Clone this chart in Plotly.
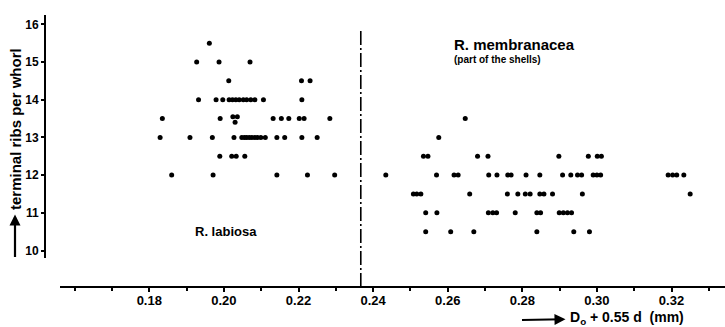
import plotly.graph_objects as go

# Shell measurements: x = D0 + 0.55 d (mm), y = terminal ribs per whorl
labiosa_x = [
    0.1961,
    0.1927, 0.1987, 0.2070,
    0.2013, 0.2208, 0.2231,
    0.1932, 0.1979, 0.1997, 0.2014, 0.2023, 0.2032, 0.2041, 0.2052, 0.2061,
    0.2072, 0.2083, 0.2106, 0.2209,
    0.1835, 0.1990, 0.2024, 0.2036, 0.2030, 0.2132, 0.2154, 0.2174, 0.2202,
    0.2215, 0.2284,
    0.1829, 0.1909, 0.1969, 0.2027, 0.2048, 0.2055, 0.2061, 0.2068, 0.2075,
    0.2083, 0.2090, 0.2099, 0.2111, 0.2142, 0.2163, 0.2209, 0.2250,
    0.1989, 0.2021, 0.2033, 0.2056,
    0.1860, 0.1971, 0.2142, 0.2224, 0.2297,
]
labiosa_y = [
    15.5,
    15.0, 15.0, 15.0,
    14.5, 14.5, 14.5,
    14.0, 14.0, 14.0, 14.0, 14.0, 14.0, 14.0, 14.0, 14.0,
    14.0, 14.0, 14.0, 14.0,
    13.5, 13.5, 13.55, 13.55, 13.4, 13.5, 13.5, 13.5, 13.5,
    13.5, 13.5,
    13.0, 13.0, 13.0, 13.0, 13.0, 13.0, 13.0, 13.0, 13.0,
    13.0, 13.0, 13.0, 13.0, 13.0, 13.0, 13.0, 13.0,
    12.5, 12.5, 12.5, 12.5,
    12.0, 12.0, 12.0, 12.0, 12.0,
]

membranacea_x = [
    0.2647,
    0.2576,
    0.2535, 0.2547, 0.2680, 0.2708, 0.2898, 0.2977, 0.3001, 0.3012,
    0.2434, 0.2570, 0.2617, 0.2628, 0.2710, 0.2732, 0.2761, 0.2770, 0.2810,
    0.2847, 0.2908, 0.2930, 0.2948, 0.2959, 0.2990, 0.3000, 0.3010, 0.3191,
    0.3203, 0.3214, 0.3233,
    0.2508, 0.2517, 0.2528, 0.2659, 0.2760, 0.2788, 0.2808, 0.2821, 0.2847,
    0.2858, 0.2881, 0.2961, 0.3250,
    0.2541, 0.2571, 0.2709, 0.2721, 0.2731, 0.2781, 0.2839, 0.2849, 0.2899,
    0.2910, 0.2921, 0.2932,
    0.2541, 0.2608, 0.2670, 0.2839, 0.2938, 0.2980,
]
membranacea_y = (
    [13.5]
    + [13.0]
    + [12.5] * 8
    + [12.0] * 21
    + [11.5] * 13
    + [11.0] * 12
    + [10.5] * 6
)

x_ticks = [0.18, 0.20, 0.22, 0.24, 0.26, 0.28, 0.30, 0.32]
x_ticktext = ["0.18", "0.20", "0.22", "0.24", "0.26", "0.28", "0.30", "0.32"]
x_minor = [0.16, 0.17, 0.19, 0.21, 0.23, 0.25, 0.27, 0.29, 0.31, 0.33]
y_ticks = [10, 11, 12, 13, 14, 15, 16]
boundary_x = 0.2367

FONT = "Liberation Sans"
W, H = 725, 327
ML, MR, MT, MB = 45, 0, 15, 40
PW, PH = W - ML - MR, H - MT - MB


def px(xp):
    return (xp - ML) / PW


def py(yp):
    return (H - MB - yp) / PH


marker = dict(size=5, color="black", symbol="circle")

fig = go.Figure()
fig.add_trace(go.Scatter(x=labiosa_x, y=labiosa_y, mode="markers",
                         marker=marker, name="R. labiosa", showlegend=False))
fig.add_trace(go.Scatter(x=membranacea_x, y=membranacea_y, mode="markers",
                         marker=marker, name="R. membranacea", showlegend=False))

# dash-dot boundary between the two species
fig.add_shape(type="line", xref="x", yref="paper",
              x0=boundary_x, x1=boundary_x, y0=0, y1=py(28),
              line=dict(color="black", width=1.6, dash="14px,3px,2px,3px"))

bold = dict(family=FONT, color="black", weight="bold")

fig.update_layout(
    width=W, height=H, autosize=False,
    margin=dict(l=ML, r=MR, t=MT, b=MB),
    paper_bgcolor="white", plot_bgcolor="white",
    xaxis=dict(
        domain=[px(60), 1], range=[0.15606, 0.33434],
        anchor="free", position=0,
        showline=True, linecolor="black", linewidth=2,
        showgrid=False, zeroline=False,
        tickmode="array", tickvals=x_ticks, ticktext=x_ticktext,
        ticks="outside", ticklen=4, tickwidth=1.5, tickcolor="black",
        ticklabelstandoff=-3,
        tickfont=dict(size=13, **bold),
        minor=dict(tickmode="array", tickvals=x_minor, ticks="outside",
                   ticklen=3, tickwidth=1.5, tickcolor="black"),
    ),
    yaxis=dict(
        domain=[py(258), 1], range=[9.801, 16.247],
        anchor="free", position=0,
        showline=True, linecolor="black", linewidth=2,
        showgrid=False, zeroline=False,
        tickmode="array", tickvals=y_ticks,
        ticks="outside", ticklen=3, tickwidth=1.5, tickcolor="black",
        tickfont=dict(size=12, **bold),
    ),
)

arrow = dict(showarrow=True, arrowside="start", startarrowhead=2,
             startarrowsize=1, arrowwidth=2.2, arrowcolor="black",
             startstandoff=3)

annotations = [
    # y-axis title; arrow runs up from its tail into the title
    dict(text="terminal ribs per whorl", x=px(15), y=py(257),
         ax=0, ay=-128, textangle=-90, font=dict(size=15, **bold), **arrow),
    # x-axis title; arrow runs right from its tail into the title
    dict(text="D<sub>o</sub> + 0.55 d  (mm)", x=px(522), y=py(320),
         ax=105, ay=-2, font=dict(size=14, **bold), **arrow),
    # species labels
    dict(text=("<span style='font-size:15px'>R. membranacea</span><br>"
               "(part of the shells)"),
         x=px(452), y=py(51), align="left",
         xanchor="left", yanchor="middle", showarrow=False,
         font=dict(size=10, **bold)),
    dict(text="R. labiosa", x=px(193), y=py(231),
         xanchor="left", yanchor="middle", showarrow=False,
         font=dict(size=13, **bold)),
]
for a in annotations:
    a.setdefault("xref", "paper")
    a.setdefault("yref", "paper")
    fig.add_annotation(**a)

fig.write_html("out.html", config={"displayModeBar": False})
